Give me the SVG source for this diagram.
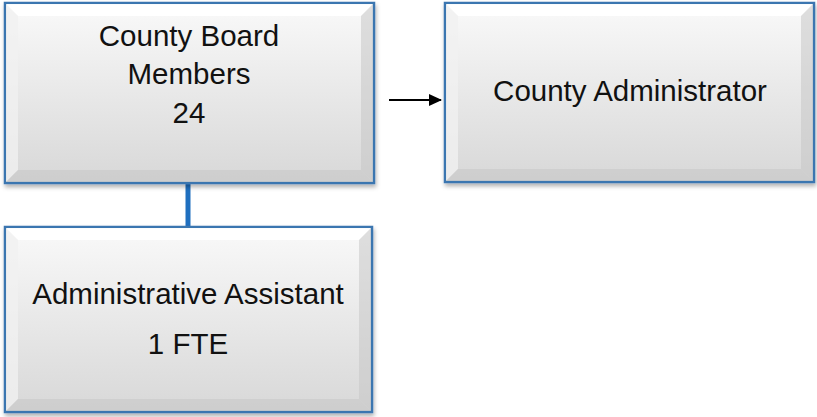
<svg xmlns="http://www.w3.org/2000/svg" width="817" height="417" viewBox="0 0 817 417">
<style>
.frame{fill:url(#face);stroke:#3a76b0;stroke-width:2.5;filter:url(#sh)}
.inner{fill:url(#inner);stroke:none}
.bl{fill:#ffffff;opacity:0.9}
.bd{fill:#c4c4c4;opacity:0.55}
.bs{fill:#f0f0f0;opacity:0.8}
.t{font-family:"Liberation Sans",Arial,sans-serif;font-size:29.5px;fill:#111;text-anchor:middle}
</style>
<defs>
<linearGradient id="face" x1="0" y1="0" x2="0" y2="1">
<stop offset="0" stop-color="#fdfdfd"/>
<stop offset="1" stop-color="#d9d9d9"/>
</linearGradient>
<linearGradient id="inner" x1="0" y1="0" x2="0" y2="1">
<stop offset="0" stop-color="#f7f7f7"/>
<stop offset="1" stop-color="#dadada"/>
</linearGradient>
<filter id="sh" x="-5%" y="-5%" width="115%" height="120%">
<feDropShadow dx="1" dy="3" stdDeviation="2" flood-color="#000" flood-opacity="0.3"/>
</filter>
<marker id="ah" markerWidth="13" markerHeight="12" refX="12" refY="6" orient="auto" markerUnits="userSpaceOnUse">
<path d="M0,0 L13,6 L0,12 Z" fill="#000"/>
</marker>
</defs>
<g id="connectors">
<line x1="389" y1="100" x2="441" y2="100" stroke="#000" stroke-width="2" marker-end="url(#ah)"/>
<line x1="188" y1="183" x2="188" y2="227" stroke="#1f6fbf" stroke-width="5"/>
</g>
<g id="board">
<rect class="frame" x="5" y="3" width="369" height="180"/>
<polygon class="bl" points="6,4 373,4 361,16 18,16"/>
<polygon class="bs" points="6,4 18,16 18,170 6,182"/>
<polygon class="bd" points="373,4 373,182 361,170 361,16"/>
<polygon class="bd" points="6,182 18,170 361,170 373,182"/>
<rect class="inner" x="18" y="16" width="343" height="154"/>
<text class="t" x="189" y="46">County Board</text>
<text class="t" x="189" y="84">Members</text>
<text class="t" x="189" y="123">24</text>
</g>
<g id="admin">
<rect class="frame" x="445" y="3" width="369" height="179"/>
<polygon class="bl" points="446,4 813,4 801,16 458,16"/>
<polygon class="bs" points="446,4 458,16 458,169 446,181"/>
<polygon class="bd" points="813,4 813,181 801,169 801,16"/>
<polygon class="bd" points="446,181 458,169 801,169 813,181"/>
<rect class="inner" x="458" y="16" width="343" height="153"/>
<text class="t" x="630" y="101">County Administrator</text>
</g>
<g id="assistant">
<rect class="frame" x="5" y="227" width="367" height="185"/>
<polygon class="bl" points="6,228 371,228 359,240 18,240"/>
<polygon class="bs" points="6,228 18,240 18,399 6,411"/>
<polygon class="bd" points="371,228 371,411 359,399 359,240"/>
<polygon class="bd" points="6,411 18,399 359,399 371,411"/>
<rect class="inner" x="18" y="240" width="341" height="159"/>
<text class="t" x="188" y="304">Administrative Assistant</text>
<text class="t" x="188" y="354">1 FTE</text>
</g>
</svg>
